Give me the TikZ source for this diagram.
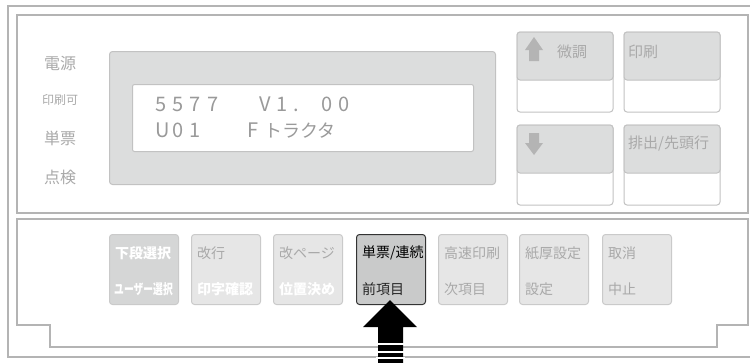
\documentclass[tikz,border=0pt]{standalone}
\usepackage{fontspec}
\setmainfont{Noto Sans CJK JP}
\definecolor{framegray}{HTML}{B4B4B4}
\definecolor{housing}{HTML}{DCDDDD}
\definecolor{housingedge}{HTML}{C2C2C2}
\definecolor{btnlight}{HTML}{E6E6E6}
\definecolor{btnedge}{HTML}{CACACA}
\definecolor{btnmid}{HTML}{D5D6D6}
\definecolor{btnsel}{HTML}{C9CACA}
\definecolor{txtgray}{HTML}{A9A9A9}
\definecolor{lcdtxt}{HTML}{9A9A9A}
\newcommand\lch[1]{\makebox[17.3pt][l]{#1}}
\begin{document}
\begin{tikzpicture}[x=1pt,y=-1pt,
  frameline/.style={draw=framegray,line width=2pt},
  lbl/.style={text=txtgray,font=\fontsize{16}{16}\selectfont,inner sep=0},
  lcdtext/.style={text=lcdtxt,font=\fontsize{20}{20}\selectfont,inner sep=0,anchor=west},
  keybox/.style={draw=btnedge,fill=btnlight,rounded corners=3pt,line width=1pt,anchor=north west,minimum width=69pt,minimum height=70pt,inner sep=0},
  keytxt/.style={font=\fontsize{14}{14}\selectfont,inner sep=0,anchor=west},
  upkey/.style={draw=housingedge,fill=white,rounded corners=3pt,line width=1pt}
]
\useasboundingbox (0,0) rectangle (750,362);
% outer frame and panels
\draw[frameline] (752,6) -- (8,6) -- (8,357) -- (752,357);
\draw[frameline] (17,15) rectangle (748,213);
\draw[frameline] (17,219) -- (748,219) -- (748,325) -- (717,325) -- (717,347) -- (50,347) -- (50,325) -- (17,325) -- cycle;
% LCD
\node[draw=housingedge,fill=housing,rounded corners=3pt,line width=1pt,anchor=north west,minimum width=386pt,minimum height=133pt,inner sep=0] (housing) at (109,51) {};
\node[draw=housingedge,fill=white,rounded corners=2pt,line width=1pt,anchor=north west,minimum width=341pt,minimum height=67pt,inner sep=0] (screen) at (132,84) {};
\node[lcdtext] (line1) at (155,104) {\lch{5}\lch{5}\lch{7}\lch{7}\hspace{34.6pt}\lch{V}\lch{1}\makebox[28pt][l]{.}\lch{0}\lch{0}};
\node[lcdtext] (line2) at (155,131) {\lch{U}\lch{0}\lch{1}\hspace{40pt}\makebox[17pt][l]{F}\fontsize{18}{18}\selectfont トラクタ};
% left labels
\node[lbl] (l1) at (60,63) {電源};
\node[lbl,font=\fontsize{12}{12}\selectfont] (l2) at (60,100) {印刷可};
\node[lbl] (l3) at (60,138) {単票};
\node[lbl] (l4) at (60,177) {点検};
% upper right keys
\foreach \nm/\x/\y in {k1/517/32,k2/624/32,k3/517/125,k4/624/125}{
  \draw[upkey] (\x,\y) rectangle ++(96,80);
  \fill[housing,rounded corners=3pt] (\x,\y+48) -- (\x,\y) -- (\x+96,\y) -- (\x+96,\y+48) -- cycle;
  \draw[housingedge,line width=1pt,rounded corners=3pt] (\x,\y+48) -- (\x,\y) -- (\x+96,\y) -- (\x+96,\y+48) -- cycle;
  \coordinate (\nm) at (\x,\y);
}
\fill[framegray] (534,37) -- (543,50) -- (539,50) -- (539,61) -- (529,61) -- (529,50) -- (525,50) -- cycle;
\fill[framegray] (534,155) -- (543,143) -- (539,143) -- (539,133) -- (529,133) -- (529,143) -- (525,143) -- cycle;
\node[keytxt,text=txtgray,font=\fontsize{15}{15}\selectfont] (t1) at (557,52) {微調};
\node[keytxt,text=txtgray,font=\fontsize{15}{15}\selectfont] (t2) at (628,52) {印刷};
\node[keytxt,text=txtgray,font=\fontsize{15}{15}\selectfont] (t4) at (628,144) {排出/先頭行};
% lower keys
\node[keybox,fill=btnmid] (b1) at (109,234) {};
\node[keybox] (b2) at (191,234) {};
\node[keybox] (b3) at (273,234) {};
\node[keybox,fill=btnsel,draw=black!80] (b4) at (356,234) {};
\node[keybox] (b5) at (438,234) {};
\node[keybox] (b6) at (519,234) {};
\node[keybox] (b7) at (602,234) {};
\node[keytxt,text=white,font=\fontsize{14}{14}\selectfont\bfseries] at ([xshift=6pt,yshift=-19pt]b1.north west) {下段選択};
\node[keytxt,text=white,font=\fontsize{14}{14}\selectfont\bfseries] at ([xshift=5pt,yshift=-55pt]b1.north west) {\scalebox{0.7}[1]{ユーザー選択}};
\node[keytxt,text=txtgray] at ([xshift=6pt,yshift=-19pt]b2.north west) {改行};
\node[keytxt,text=white,font=\fontsize{14}{14}\selectfont\bfseries] at ([xshift=6pt,yshift=-55pt]b2.north west) {印字確認};
\node[keytxt,text=txtgray] at ([xshift=6pt,yshift=-19pt]b3.north west) {改ページ};
\node[keytxt,text=white,font=\fontsize{14}{14}\selectfont\bfseries] at ([xshift=6pt,yshift=-55pt]b3.north west) {位置決め};
\node[keytxt,text=black] at ([xshift=6pt,yshift=-19pt]b4.north west) {単票/連続};
\node[keytxt,text=black!85] at ([xshift=6pt,yshift=-55pt]b4.north west) {前項目};
\node[keytxt,text=txtgray] at ([xshift=6pt,yshift=-19pt]b5.north west) {高速印刷};
\node[keytxt,text=txtgray] at ([xshift=6pt,yshift=-55pt]b5.north west) {次項目};
\node[keytxt,text=txtgray] at ([xshift=6pt,yshift=-19pt]b6.north west) {紙厚設定};
\node[keytxt,text=txtgray] at ([xshift=6pt,yshift=-55pt]b6.north west) {設定};
\node[keytxt,text=txtgray] at ([xshift=6pt,yshift=-19pt]b7.north west) {取消};
\node[keytxt,text=txtgray] at ([xshift=6pt,yshift=-55pt]b7.north west) {中止};
% big arrow
\fill[black] (390,300) -- (417,327) -- (403,327) -- (403,363) -- (378,363) -- (378,327) -- (363,327) -- cycle;
\foreach \yy in {343.5,351.5,357.5}{
  \draw[white,line width=2pt] (376,\yy) -- (405,\yy);
}
\end{tikzpicture}
\end{document}
